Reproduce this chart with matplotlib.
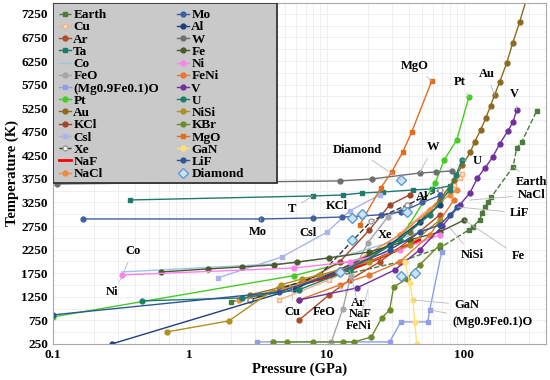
import matplotlib
matplotlib.use('Agg')
import matplotlib.pyplot as plt
from matplotlib.patches import Rectangle
from matplotlib.ticker import FixedLocator, NullFormatter

plt.rcParams['font.family'] = 'Liberation Serif'
plt.rcParams['font.weight'] = 'bold'

# melting curves, pressure (GPa) / temperature (K)
earth_p = [2.0, 6.3, 34, 67, 109, 116, 131, 136, 143, 150, 159, 229, 244, 265, 341]
earth_t = [1140, 1500, 1990, 2285, 2667, 2730, 2879, 3027, 3154, 3260, 3366, 4002, 4405, 4532, 5190]
cu_p = [4.5, 10.4, 20.5, 40.3, 66.8, 85, 93.5, 97]
cu_t = [1183, 1607, 2031, 2773, 3303, 3621, 3769, 3854]
ar_p = [6.3, 10.4, 14.7, 24.3, 40.3, 66.8]
ar_t = [759, 1289, 1607, 1988, 2455, 2985]
ta_p = [0.365, 7.9, 13.1, 18, 25.6, 42.4, 58.5, 80]
ta_t = [3303, 3388, 3409, 3451, 3472, 3515, 3536, 3600]
co_p = [0.32, 5.8, 14.7, 28.8, 56.5]
co_t = [1776, 1967, 2150, 2400, 2700]
feo_p = [10.8, 13.1, 15, 20, 28, 40]
feo_t = [292, 992, 1700, 2400, 2950, 3200]
mgfeo_p = [3.08, 4.03, 28.8, 34.7, 54.6, 56.5, 69]
mgfeo_t = [292, 292, 292, 716, 716, 971, 2200]
pt_p = [0.1, 5.8, 20, 34.1, 62, 72, 89, 109]
pt_t = [822, 1700, 2100, 2455, 3663, 4151, 4575, 5486]
au_p = [2.74, 8.9, 20.5, 40.3, 66.8, 85, 98, 112, 120, 133, 145, 157, 168, 183, 206, 228, 256, 290]
au_t = [1289, 1649, 2073, 2624, 3303, 3727, 4045, 4320, 4532, 4787, 5041, 5296, 5529, 5804, 6207, 6631, 7076, 7600]
kcl_p = [2.74, 6.3, 12.4, 20.5, 28.8, 40.3]
kcl_t = [1183, 1500, 1988, 2667, 3197, 3409]
csi_p = [1.6, 4.7, 10.1, 14.7, 24.3]
csi_t = [1650, 2094, 2624, 3070, 3409]
xe_p = [2.74, 8.9, 21.2, 38.5, 66.8]
xe_t = [1183, 1713, 2858, 3197, 3515]
naf_p = [7.5, 14.7, 24.3, 47.7]
naf_t = [1564, 1819, 2073, 2455]
nacl_p = [2.3, 6.3, 14.7, 34.1, 56.5, 79, 90]
nacl_t = [1183, 1500, 1925, 2561, 3091, 3409, 3515]
mo_p = [0.166, 3.3, 7.9, 12.9, 18, 25, 35, 50, 67]
mo_t = [2900, 2900, 2921, 2942, 2963, 2990, 3050, 3250, 3400]
al_p = [0.27, 5.8, 12.4, 28.8, 47.7, 66.8]
al_t = [250, 1416, 1819, 2349, 2836, 3197]
w_p = [0.107, 12.4, 21.3, 47.7, 62.5, 81.7]
w_t = [3642, 3706, 3748, 3875, 3896, 3918]
fe_p = [0.62, 1.36, 2.4, 4.1, 6.1, 10.4, 20.5, 40.3, 66.8, 101]
fe_t = [1776, 1840, 1882, 1925, 1988, 2073, 2200, 2455, 2624, 2879]
ni_p = [0.32, 5.8, 14.7, 34.1, 66.8]
ni_t = [1713, 1861, 1990, 2243, 2560]
feni_p = [6.3, 12.4, 20.5, 34.1, 56.5, 85]
feni_t = [1183, 1500, 1713, 1988, 2561, 3303]
v_p = [6.3, 16.6, 31.4, 47.7, 70, 93.5, 111, 126, 143, 163, 183, 210, 229, 244]
v_t = [1183, 1437, 1819, 2243, 2752, 3197, 3451, 3769, 3981, 4214, 4490, 4766, 4956, 5211]
u_p = [0.446, 2.4, 6.3, 14.7, 34.1, 56.5, 79, 88, 97]
u_t = [1162, 1225, 1400, 1820, 2455, 2985, 3515, 3830, 4151]
nisi_p = [0.68, 1.93, 4.6, 6.6, 8.9, 20.5, 40.3, 66.8]
nisi_t = [504, 738, 1500, 1628, 1713, 1988, 2349, 2879]
kbr_p = [4.03, 5.1, 7.9, 13.1, 15.9, 21.2, 25.2, 28.8, 30.8, 38.5, 47.7, 66.8]
kbr_t = [292, 292, 292, 292, 292, 398, 801, 971, 1458, 1628, 1925, 2349]
mgo_p = [17.4, 24.8, 29.8, 35.9, 41.7, 58.4]
mgo_t = [2773, 3558, 3897, 4319, 4743, 5826]
gan_p = [37.4, 40.3, 42.5, 43.9, 45.4]
gan_t = [1988, 1543, 1183, 716, 250]
lif_p = [0.1, 4.5, 12.4, 28.8, 47.7, 66.8, 79, 90]
lif_t = [865, 1352, 1776, 2243, 2624, 2773, 2985, 3154]
dia_p = [15.2, 18, 15.4, 38.5, 35, 12.4, 35, 44]
dia_t = [2921, 3006, 2455, 3048, 3727, 1776, 1690, 1755]

# label text position, then the point its leader line goes to
labels = [
    ('MgO', 43.9, 6144, 58.4, 5826), ('Pt', 93.5, 5804, 108.7, 5486),
    ('Au', 147, 5974, 168, 5529), ('V', 236, 5550, 244, 5211),
    ('Diamond', 16.6, 4363, 35, 3727), ('W', 60, 4426, 47.7, 3875),
    ('U', 125, 4130, 97, 4151), ('Earth', 315, 3684, 232, 4002),
    ('NaCl', 315, 3409, 110, 3300), ('LiF', 256, 3027, 90, 3154),
    ('Fe', 250, 2116, 101, 2879), ('NiSi', 116, 2137, 80, 2700),
    ('GaN', 105, 1077, 42.5, 1183), ('(Mg0.9Fe0.1)O', 162, 716, 56.5, 971),
    ('Ar', 17, 1119, 12, 1500), ('NaF', 17.6, 886, 14.7, 1819),
    ('FeNi', 17, 632, 20, 1400), ('FeO', 9.6, 928, 13.1, 992),
    ('Cu', 5.6, 928, 5.6, 1450), ('Xe', 26.5, 2560, 21.2, 2858),
    ('Csl', 7.3, 2603, 7.3, 2603), ('KCl', 11.8, 3176, 11.8, 3176),
    ('T', 5.6, 3112, 7.9, 3388), ('Al', 49.6, 3366, 49.6, 3366),
    ('Mo', 3.13, 2624, 3.3, 2900), ('Co', 0.384, 2222, 0.33, 1780),
    ('Ni', 0.27, 1352, 0.33, 1720),
]

series = [
    ('Earth', earth_p, earth_t, '#4e7a3e', 's', '--', '#4e7a3e'),
    ('Cu', cu_p, cu_t, '#f4b183', 's', '-', '#fbe5d6'),
    ('Ar', ar_p, ar_t, '#b04a28', 'o', '-', None),
    ('Ta', ta_p, ta_t, '#1f7a6e', 's', '-', None),
    ('Co', co_p, co_t, '#9dc3e6', '', '-', None),
    ('FeO', feo_p, feo_t, '#a6a6a6', 'o', '-', None),
    ('(Mg0.9Fe0.1)O', mgfeo_p, mgfeo_t, '#8f9ee6', 's', '-', None),
    ('Pt', pt_p, pt_t, '#44cc22', 'o', '-', None),
    ('Au', au_p, au_t, '#8c6a1e', 'o', '-', None),
    ('KCl', kcl_p, kcl_t, '#a0452a', 'o', '-', None),
    ('Csl', csi_p, csi_t, '#aab4ea', 's', '-', None),
    ('Xe', xe_p, xe_t, '#333333', 'o', '--', 'white'),
    ('NaF', naf_p, naf_t, '#ff0000', '', '-', None),
    ('NaCl', nacl_p, nacl_t, '#f08a3c', 'o', '-', None),
    ('Mo', mo_p, mo_t, '#3f5fa0', 'o', '-', None),
    ('Al', al_p, al_t, '#203f7a', 'o', '-', None),
    ('W', w_p, w_t, '#6e6e6e', 'o', '-', None),
    ('Fe', fe_p, fe_t, '#4a5a2a', 'o', '-', None),
    ('Ni', ni_p, ni_t, '#ff80f0', 'o', '-', None),
    ('FeNi', feni_p, feni_t, '#e8762c', 'o', '-', None),
    ('V', v_p, v_t, '#7030a0', 'o', '-', None),
    ('U', u_p, u_t, '#1a7f6a', 'o', '-', None),
    ('NiSi', nisi_p, nisi_t, '#b0901e', 'o', '-', None),
    ('KBr', kbr_p, kbr_t, '#6b8a2a', 'o', '-', None),
    ('MgO', mgo_p, mgo_t, '#e46c1f', 's', '-', None),
    ('GaN', gan_p, gan_t, '#ffe07a', 'o', '-', None),
    ('LiF', lif_p, lif_t, '#2f5597', 'o', '-', None),
]

fig, ax = plt.subplots(figsize=(5.5, 3.8), dpi=100)
plt.subplots_adjust(left=0.096, right=0.993, bottom=0.095, top=0.992)

for name, p, t, c, m, ls, mfc in series:
    lw = 2.0 if name == 'NaF' else 1.0
    ax.plot(p, t, color=c, marker=m, ms=3.5, lw=lw, ls=ls, label=name,
            mfc=mfc if mfc else c, mec=c if name != 'Xe' else '#999999')
ax.plot(dia_p, dia_t, ls='none', marker='D', ms=5, mfc='#cfe2f3', mec='#5b9bd5',
        mew=1, label='Diamond')

for txt, x, y, px, py in labels:
    fs = 7 if txt == 'KBr' else 9
    if (x, y) == (px, py):
        ax.text(x, y, txt, fontsize=fs, fontweight='bold', ha='center', va='center')
    else:
        ax.annotate(txt, xy=(px, py), xytext=(x, y), fontsize=fs, fontweight='bold',
                    ha='center', va='center',
                    arrowprops=dict(arrowstyle='-', color='#b8b8b8', lw=0.6,
                                    shrinkA=2, shrinkB=0))

ax.set_xscale('log')
ax.set_xlim(0.1, 400)
ax.set_ylim(250, 7480)
ax.yaxis.set_major_locator(FixedLocator(list(range(250, 7500, 500))))
ax.yaxis.set_minor_locator(FixedLocator(list(range(500, 7500, 500))))
ax.set_xticks([0.1, 1, 10, 100])
ax.set_xticklabels(['0.1', '1', '10', '100'])
ax.xaxis.set_minor_formatter(NullFormatter())
ax.tick_params(which='both', length=0, labelsize=9.5)
ax.grid(which='both', color='#ececec', lw=0.6)
ax.set_axisbelow(True)
for s in ax.spines.values():
    s.set_color('#a8a8a8')

ax.set_xlabel('Pressure (GPa)', fontsize=10.5, fontweight='bold', labelpad=1)
ax.set_ylabel('Temperature (K)', fontsize=10.5, fontweight='bold', labelpad=2)

# gray legend box is wider than its entries
ax.add_patch(Rectangle((0, 0.472), 0.454, 0.528, transform=ax.transAxes,
                       facecolor='#c9c9c9', edgecolor='#333333', lw=1.3, zorder=4.9))
leg = ax.legend(loc='upper left', bbox_to_anchor=(0, 1), borderaxespad=0, ncol=2,
                fontsize=9.5, labelspacing=0.0, handlelength=0.9, handletextpad=0.2,
                columnspacing=1.35, borderpad=0.45, frameon=False)
leg.set_zorder(5)
for t in leg.get_texts():
    t.set_fontweight('bold')

plt.savefig('out.png', dpi=100)
